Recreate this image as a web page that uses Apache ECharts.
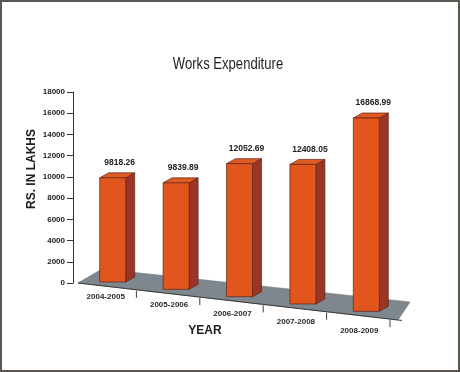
<!DOCTYPE html>
<html>
<head>
<meta charset="utf-8">
<script src="https://cdn.jsdelivr.net/npm/echarts@6/dist/echarts.min.js"></script>
<style>
  html, body { margin: 0; padding: 0; background: #fff; }
  #chart { width: 460px; height: 372px; }
</style>
</head>
<body>
<div id="chart"></div>
<script>
const categories = ['2004-2005', '2005-2006', '2006-2007', '2007-2008', '2008-2009'];
const values = [9818.26, 9839.89, 12052.69, 12408.05, 16868.99];
const valueLabels = ['9818.26', '9839.89', '12052.69', '12408.05', '16868.99'];
const yMin = 0, yMax = 18000, yInterval = 2000;

const chart = echarts.init(document.getElementById('chart'), null, { renderer: 'canvas' });

const FRONT_SLOPE = 0.1156;
const BACK_SLOPE = 0.107;
const LABEL_FONT = "bold 8px 'Liberation Sans', Arial, sans-serif";

function frame(api) {
  const p0 = api.coord([0, 0]);
  const bw = api.size([1, 0])[0];
  const left = p0[0] - bw / 2;
  const y0 = p0[1];
  const fx0 = left + 5;
  const edgeY = x => y0 + (x - fx0) * FRONT_SLOPE;
  return { bw, left, y0, fx0, edgeY, right: left + bw * categories.length };
}

function renderFloor(params, api) {
  const f = frame(api);
  const FL = [f.fx0, f.y0];
  const FR = [f.right + 8, f.edgeY(f.right + 8)];
  const BL = [f.left + 29, f.y0 - 14];
  const BR = [f.right + 20, BL[1] + (f.right + 20 - BL[0]) * BACK_SLOPE];
  const children = [
    { type: 'polygon', shape: { points: [FL, BL, BR, FR] },
      style: { fill: '#7f878e', stroke: '#6e767c', lineWidth: 0.6 } },
    { type: 'line', shape: { x1: FL[0], y1: FL[1], x2: f.right + 12, y2: f.edgeY(f.right + 12) },
      style: { stroke: '#3a3a3a', lineWidth: 1 } }
  ];
  for (let k = 1; k <= categories.length; k++) {
    const x = f.left + f.bw * k;
    const y = f.edgeY(x);
    children.push({ type: 'line', shape: { x1: x, y1: y + 1, x2: x, y2: y + 8 },
      style: { stroke: '#3a3a3a', lineWidth: 1 } });
  }
  categories.forEach((c, i) => {
    const cx = api.coord([i, 0])[0] + 1;
    children.push({ type: 'text', x: cx, y: f.edgeY(cx) + 10.5 + 1.1 * i,
      style: { text: c, font: LABEL_FONT, fill: '#2a2a2a', align: 'center', verticalAlign: 'middle' } });
  });
  return { type: 'group', children };
}

function renderBar(params, api) {
  const f = frame(api);
  const i = api.value(0);
  const v = api.value(1);
  const cx = api.coord([i, 0])[0];
  const persp = 1 + 0.02 * i;
  const h = (f.y0 - api.coord([i, v])[1]) * persp;
  const x1 = cx - 5, w = 26, dx = 9, dy = -5;
  const x2 = x1 + w;
  const bottom = f.edgeY(cx + 8) - 5;
  const top = bottom - h;
  const edge = '#5e2414';
  return { type: 'group', children: [
    { type: 'polygon', shape: { points: [[x2, top], [x2 + dx, top + dy], [x2 + dx, bottom + dy], [x2, bottom]] },
      style: { fill: '#9a3626', stroke: edge, lineWidth: 0.7 } },
    { type: 'polygon', shape: { points: [[x1, top], [x1 + dx, top + dy], [x2 + dx, top + dy], [x2, top]] },
      style: { fill: '#e05a22', stroke: edge, lineWidth: 0.7 } },
    { type: 'rect', shape: { x: x1, y: top, width: w, height: h },
      style: { fill: '#e2561e', stroke: edge, lineWidth: 0.7 } },
    { type: 'text', x: cx + 15, y: top - 15,
      style: { text: valueLabels[i], font: "bold 8.5px 'Liberation Sans', Arial, sans-serif",
        fill: '#222', align: 'center', verticalAlign: 'middle' } }
  ] };
}

chart.setOption({
  backgroundColor: '#ffffff',
  animation: false,
  grid: { left: 73, right: 70, top: 92, bottom: 89 },
  xAxis: {
    type: 'category',
    data: categories,
    show: false
  },
  yAxis: {
    type: 'value',
    min: yMin, max: yMax, interval: yInterval,
    axisLine: { show: true, lineStyle: { color: '#333', width: 1 } },
    axisTick: { show: true, length: 6, lineStyle: { color: '#333' } },
    axisLabel: { margin: 8, fontSize: 8, fontWeight: 'bold', color: '#222',
      fontFamily: "'Liberation Sans', Arial, sans-serif",
      formatter: v => String(v) },
    splitLine: { show: false }
  },
  graphic: [
    { type: 'rect', shape: { x: 1, y: 1, width: 458, height: 370 },
      style: { fill: 'none', stroke: '#5a5652', lineWidth: 2 }, z: 100 },
    { type: 'text', x: 228, y: 64, scaleX: 0.77,
      style: { text: 'Works Expenditure', font: "normal 17px 'Liberation Sans', Arial, sans-serif",
        fill: '#1e1e1e', align: 'center', verticalAlign: 'middle' } },
    { type: 'text', x: 32, y: 169, rotation: Math.PI / 2,
      style: { text: 'RS. IN LAKHS', font: "bold 12px 'Liberation Sans', Arial, sans-serif",
        fill: '#1e1e1e', align: 'center', verticalAlign: 'middle' } },
    { type: 'text', x: 205, y: 331,
      style: { text: 'YEAR', font: "bold 12px 'Liberation Sans', Arial, sans-serif",
        fill: '#1e1e1e', align: 'center', verticalAlign: 'middle' } }
  ],
  series: [
    { type: 'custom', name: 'floor', data: [[0, 0]], renderItem: renderFloor, z: 1, silent: true },
    { type: 'custom', name: 'Works Expenditure', data: values.map((v, i) => [i, v]),
      renderItem: renderBar, z: 2 }
  ]
});
</script>
</body>
</html>
